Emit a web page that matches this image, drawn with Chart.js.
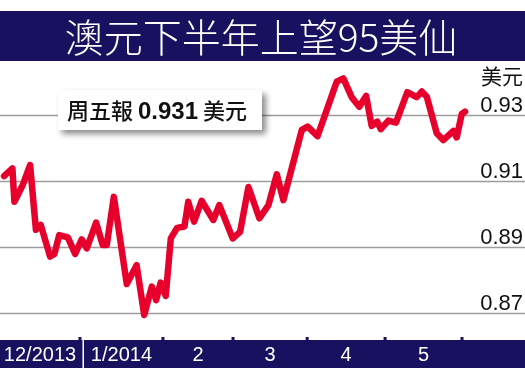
<!DOCTYPE html>
<html>
<head>
<meta charset="utf-8">
<script src="https://cdn.jsdelivr.net/npm/chart.js@4"></script>
<style>
  body { margin: 0; background: #fff; }
  #wrap { width: 525px; height: 372px; position: relative; }
</style>
</head>
<body>
<div id="wrap"><canvas id="audChart"></canvas></div>
<script>
// AUD/USD, Dec 2013 - May 2014 (x = days from 1 Dec 2013)
let days = [0.8, 4.1, 4.9, 8.2, 11.1, 13.4, 15.3, 19.0, 20.7, 22.6, 26.0, 28.9, 31.5, 33.5, 37.2, 39.8,
  41.4, 44.2, 49.3, 53.2, 56.2, 59.2, 60.9, 62.7, 64.7, 66.7, 69.2, 72.1, 73.6, 75.9, 78.9, 83.5,
  85.9, 91.2, 94.1, 97.4, 101.7, 105.3, 108.6, 111.2, 118.5, 120.8, 124.7, 132.3, 134.9, 138.2,
  141.2, 143.9, 146.1, 148.3, 149.7, 152.7, 155.7, 160.2, 163.9, 165.9, 167.9, 171.8, 174.4,
  178.4, 179.7, 181.7, 183.0];
let rates = [0.9115, 0.9138, 0.9037, 0.9088, 0.9148, 0.8952, 0.8967, 0.8871, 0.8879, 0.8936, 0.8929,
  0.8879, 0.8923, 0.8896, 0.8974, 0.8906, 0.8906, 0.9052, 0.8788, 0.8845, 0.8694, 0.8780, 0.8739,
  0.8792, 0.8752, 0.8926, 0.8958, 0.8962, 0.9037, 0.8977, 0.9040, 0.8982, 0.9027, 0.8926, 0.8946,
  0.9082, 0.8987, 0.9027, 0.9120, 0.9042, 0.9255, 0.9265, 0.9236, 0.9401, 0.9411, 0.9354, 0.9325,
  0.9358, 0.9267, 0.9280, 0.9257, 0.9283, 0.9277, 0.9369, 0.9354, 0.9371, 0.9355, 0.9245, 0.9224,
  0.9252, 0.9232, 0.9303, 0.9310];
let monthTicks = [30.8, 63.6, 91.3, 120.6, 151.4, 181.8]; // month boundaries
let monthLabels = ["12/2013", "1/2014", "2", "3", "4", "5"];
let yTicks = [0.93, 0.91, 0.89, 0.87];
let yTickLabels = ["0.93", "0.91", "0.89", "0.87"];
let title = "澳元下半年上望95美仙";
let unit = "美元";
let noteText = ["周五報 ", "0.931", " 美元"];

let navy = "#18115f";
let cjk = "'Noto Sans CJK TC', 'Noto Sans CJK SC', sans-serif";
let latin = "'Liberation Sans', Arial, sans-serif";

// background, title, grid, note box
let decor = {
  id: "decor",
  beforeDatasetsDraw(chart) {
    let c = chart.ctx;
    let y = chart.scales.y, x = chart.scales.x;
    c.save();
    c.fillStyle = "#fff";
    c.fillRect(0, 0, chart.width, chart.height);

    c.fillStyle = navy;
    c.fillRect(0, 11, chart.width, 50);
    c.fillStyle = "#fff";
    c.font = "300 39px " + cjk;
    c.textAlign = "center";
    c.textBaseline = "middle";
    c.fillText(title, 261, 37);

    c.strokeStyle = "#9c9c9c";
    c.lineWidth = 1.5;
    yTicks.forEach(v => {
      let py = Math.round(y.getPixelForValue(v)) + 0.5;
      c.beginPath();
      c.moveTo(0, py);
      c.lineTo(chart.width, py);
      c.stroke();
    });

    // y labels
    c.fillStyle = "#111";
    c.textAlign = "right";
    c.textBaseline = "alphabetic";
    c.font = "22px " + latin;
    yTicks.forEach((v, i) => {
      c.fillText(yTickLabels[i], 523, y.getPixelForValue(v) - 3);
    });
    c.font = "21px " + cjk;
    c.fillText(unit, 523, 84);

    // note box
    c.save();
    c.shadowColor = "rgba(0,0,0,0.45)";
    c.shadowBlur = 6;
    c.shadowOffsetX = 4;
    c.shadowOffsetY = 4;
    c.fillStyle = "#fff";
    c.fillRect(58, 90, 204, 40);
    c.restore();
    c.fillStyle = "#111";
    c.textAlign = "left";
    let tx = 67;
    c.font = "500 22px " + cjk;
    c.fillText(noteText[0], tx, 119);
    tx += c.measureText(noteText[0]).width;
    c.font = "bold 24px " + latin;
    c.fillText(noteText[1], tx, 119);
    tx += c.measureText(noteText[1]).width;
    c.font = "500 22px " + cjk;
    c.fillText(noteText[2], tx, 119);

    // bottom month bar
    c.fillStyle = navy;
    c.fillRect(0, 340, chart.width, 28);
    monthTicks.forEach((d, i) => {
      let px = x.getPixelForValue(d);
      c.fillStyle = navy;
      c.fillRect(px - 1.5, 337, 3, 4);
      if (i == 0) {
        c.fillStyle = "#fff";
        c.fillRect(px + 2.5, 340, 1.5, 28);
      }
    });
    c.fillStyle = "#fff";
    c.textAlign = "center";
    c.textBaseline = "middle";
    c.font = "20px " + latin;
    let edges = [x.min].concat(monthTicks);
    monthLabels.forEach((t, i) => {
      let mid = (edges[i] + edges[i + 1]) / 2;
      c.fillText(t, x.getPixelForValue(mid), 355);
    });
    c.restore();
  }
};

let ctx = document.getElementById("audChart").getContext("2d");
let audChart = new Chart(ctx, {
  type: "line",
  data: {
    datasets: [{
      data: days.map((d, i) => ({ x: d, y: rates[i] })),
      borderColor: "#e6002b",
      borderWidth: 6.5,
      borderJoinStyle: "round",
      borderCapStyle: "round",
      pointRadius: 0,
      tension: 0,
      clip: false
    }]
  },
  options: {
    responsive: true,
    maintainAspectRatio: false,
    animation: false,
    layout: { padding: { left: 0, right: 0, top: 62, bottom: 35 } },
    scales: {
      x: { type: "linear", display: false, min: -0.8, max: 206.7 },
      y: { display: false, min: 0.86273, max: 0.94606 }
    },
    plugins: {
      legend: { display: false },
      tooltip: { enabled: false }
    }
  },
  plugins: [decor]
});
</script>
</body>
</html>
